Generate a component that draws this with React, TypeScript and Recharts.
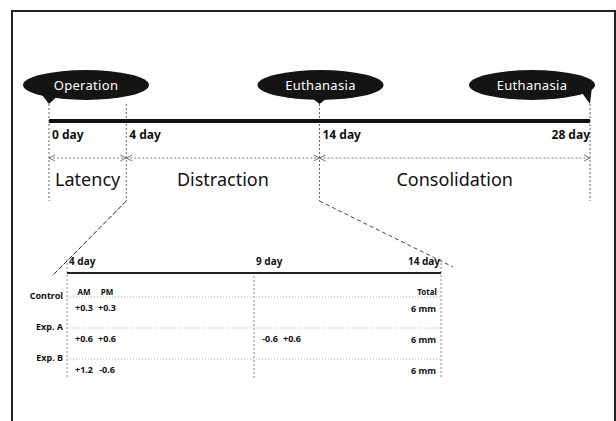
import { ComposedChart, XAxis, YAxis, Scatter, ReferenceLine } from "recharts";

const W = 616;
const H = 421;
const FONT = "'Noto Sans', 'DejaVu Sans', sans-serif";

// main timeline (days)
const dayMarks = [0, 4, 14, 28];
const dayLabels = ["0 day", "4 day", "14 day", "28 day"];
const phaseNames = ["Latency", "Distraction", "Consolidation"];
const phaseFrom = [0, 4, 14];
const phaseTo = [4, 14, 28];
const eventDays = [0, 14, 28];
const eventNames = ["Operation", "Euthanasia", "Euthanasia"];

// detail of the distraction phase (days 4 - 14)
const subDays = [4, 9, 14];
const subLabels = ["4 day", "9 day", "14 day"];
const groups = ["Control", "Exp. A", "Exp. B"];
const day4AM = [0.3, 0.6, 1.2];
const day4PM = [0.3, 0.6, -0.6];
const day9AM = [null, -0.6, null];
const day9PM = [null, 0.6, null];
const totalMm = [6, 6, 6];

// layout (pixels)
const TOP = [49, 590];
const SUB = [67, 441];
const Y = {
  tip: 104,
  main: 121,
  dayText: 134,
  arrow: 158,
  phase: 179,
  guideEnd: 201,
  subText: 261,
  subLine: 273,
  subEnd: 378,
  header: 291,
  row0: 297,
  rowGap: 31,
};
const AM_DX = 17;
const PM_DX = 40;

const lastDay = dayMarks[dayMarks.length - 1];
const subFirst = subDays[0];
const subLast = subDays[subDays.length - 1];
const rowY = (i: number) => Y.row0 + i * Y.rowGap;

// express a detail-axis day in main-axis units (for the zoom connectors)
const subToTop = (d: number) => {
  const px = SUB[0] + ((d - subFirst) / (subLast - subFirst)) * (SUB[1] - SUB[0]);
  return ((px - TOP[0]) / (TOP[1] - TOP[0])) * lastDay;
};

const fmt = (v: number) => (v > 0 ? `+${v}` : `${v}`);

const dayTextData = dayMarks.map((d, i) => ({
  x: d,
  y: Y.dayText,
  text: dayLabels[i],
  anchor: i === dayMarks.length - 1 ? "end" : "start",
  dx: i === dayMarks.length - 1 ? 0 : 3,
}));
const phaseData = phaseNames.map((n, i) => ({
  x: (phaseFrom[i] + phaseTo[i]) / 2,
  y: Y.phase,
  text: n,
}));
const bubbleData = eventDays.map((d, i) => ({
  x: d,
  y: Y.tip,
  text: eventNames[i],
  shift: i === 0 ? 37 : i === eventDays.length - 1 ? -58 : 1,
}));
const subTextData = subDays.map((d, i) => ({
  x: d,
  y: Y.subText,
  text: subLabels[i],
  anchor: i === subDays.length - 1 ? "end" : "start",
  dx: i === subDays.length - 1 ? -1 : 2,
}));
const groupData = groups.map((g, i) => ({ x: subFirst, y: rowY(i) - 2, text: g, anchor: "end", dx: -4 }));
const headerData = [
  { x: subFirst, y: Y.header, text: "AM", anchor: "middle", dx: AM_DX },
  { x: subFirst, y: Y.header, text: "PM", anchor: "middle", dx: PM_DX },
  { x: subLast, y: Y.header, text: "Total", anchor: "end", dx: -4 },
];
const valueData: any[] = [];
groups.forEach((_, i) => {
  const cols: [number, number | null, number][] = [
    [subDays[0], day4AM[i], AM_DX],
    [subDays[0], day4PM[i], PM_DX],
    [subDays[1], day9AM[i], AM_DX - 1],
    [subDays[1], day9PM[i], PM_DX - 2],
  ];
  cols.forEach(([d, v, dx]) => {
    if (v !== null) valueData.push({ x: d, y: rowY(i) + 10, text: fmt(v), anchor: "middle", dx });
  });
  valueData.push({ x: subLast, y: rowY(i) + 11, text: `${totalMm[i]} mm`, anchor: "end", dx: -5 });
});

const textShape = (size: number, weight: string | number, color = "#111") => (p: any) => (
  <text
    x={p.cx + (p.payload.dx || 0)}
    y={p.cy}
    textAnchor={p.payload.anchor || "middle"}
    dominantBaseline="central"
    fontFamily={FONT}
    fontSize={size}
    fontWeight={weight}
    fill={color}
  >
    {p.payload.text}
  </text>
);

const bubbleShape = (p: any) => {
  const tipX = p.cx;
  const tipY = p.cy;
  const rx = 63;
  const ry = 15;
  const cx = tipX + p.payload.shift;
  const cy = tipY - 19;
  const onEdge = (x: number) => {
    const xx = Math.max(cx - rx + 3, Math.min(cx + rx - 3, x));
    const t = (xx - cx) / rx;
    return [xx, cy + ry * Math.sqrt(Math.max(0, 1 - t * t)) - 3];
  };
  const a = onEdge(tipX - 9);
  const b = onEdge(tipX + 9);
  return (
    <g>
      <path d={`M${a[0]},${a[1]} L${tipX},${tipY} L${b[0]},${b[1]} Z`} fill="#141414" />
      <ellipse cx={cx} cy={cy} rx={rx} ry={ry} fill="#141414" />
      <text
        x={cx}
        y={cy}
        textAnchor="middle"
        dominantBaseline="central"
        fontFamily={FONT}
        fontSize={13}
        fill="#fff"
        letterSpacing={0.3}
      >
        {p.payload.text}
      </text>
    </g>
  );
};

const arrowShape = (p: any) => {
  const { x1, y1, x2, y2 } = p;
  const h = 6;
  const w = 3;
  return (
    <g stroke="#777" strokeWidth={1} fill="none">
      <line x1={x1} y1={y1} x2={x2} y2={y2} strokeDasharray="2 2" />
      <path d={`M${x1 + h},${y1 - w} L${x1},${y1} L${x1 + h},${y1 + w}`} />
      <path d={`M${x2 - h},${y2 - w} L${x2},${y2} L${x2 - h},${y2 + w}`} />
    </g>
  );
};

// connector from the main axis down to the detail axis, slightly extended
const connector = (topDay: number, subDay: number, ext: number) => {
  const x1 = topDay;
  const x2 = subToTop(subDay);
  const y1 = Y.guideEnd;
  const y2 = Y.subText;
  return [
    { x: x1, y: y1 },
    { x: x2 + (x2 - x1) * ext, y: y2 + (y2 - y1) * ext },
  ];
};

const App = () => {
  return (
    <div style={{ position: "absolute", left: 0, top: 0, width: W, height: H, overflow: "hidden", background: "#fff" }}>
      <div
        style={{
          position: "absolute",
          left: 11,
          top: 10,
          width: W - 11,
          height: H,
          boxSizing: "border-box",
          borderTop: "2px solid #222",
          borderLeft: "2px solid #222",
          borderRight: "2px solid #222",
        }}
      />
      <div style={{ position: "absolute", left: 0, top: 0 }}>
        <ComposedChart width={W} height={H} margin={{ top: 0, right: 0, bottom: 0, left: 0 }}>
          <XAxis
            xAxisId="top"
            type="number"
            dataKey="x"
            domain={[0, lastDay]}
            padding={{ left: TOP[0], right: W - TOP[1] }}
            hide
          />
          <XAxis
            xAxisId="sub"
            type="number"
            dataKey="x"
            domain={[subFirst, subLast]}
            padding={{ left: SUB[0], right: W - SUB[1] }}
            hide
          />
          <YAxis yAxisId="y" type="number" dataKey="y" domain={[0, H]} reversed hide />

          {/* main timeline */}
          {dayMarks.map((d) => (
            <ReferenceLine
              key={`g${d}`}
              xAxisId="top"
              yAxisId="y"
              ifOverflow="visible"
              segment={[
                { x: d, y: Y.tip },
                { x: d, y: Y.guideEnd },
              ]}
              stroke="#666"
              strokeDasharray="2 2"
            />
          ))}
          <ReferenceLine
            xAxisId="top"
            yAxisId="y"
            ifOverflow="visible"
            segment={[
              { x: 0, y: Y.main },
              { x: lastDay, y: Y.main },
            ]}
            stroke="#111"
            strokeWidth={4}
          />
          {phaseNames.map((n, i) => (
            <ReferenceLine
              key={`a${n}`}
              xAxisId="top"
              yAxisId="y"
              ifOverflow="visible"
              segment={[
                { x: phaseFrom[i], y: Y.arrow },
                { x: phaseTo[i], y: Y.arrow },
              ]}
              shape={arrowShape}
            />
          ))}
          <ReferenceLine
            xAxisId="top"
            yAxisId="y"
            ifOverflow="visible"
            segment={connector(subFirst, subFirst, 0.25)}
            stroke="#222"
            strokeDasharray="5 2"
          />
          <ReferenceLine
            xAxisId="top"
            yAxisId="y"
            ifOverflow="visible"
            segment={connector(subLast, subLast, 0.1)}
            stroke="#444"
            strokeDasharray="4 3"
          />

          {/* detail timeline */}
          {subDays.map((d, i) => (
            <ReferenceLine
              key={`s${d}`}
              xAxisId="sub"
              yAxisId="y"
              ifOverflow="visible"
              segment={[
                { x: d, y: i === 1 ? Y.subLine + 3 : Y.subText - 2 },
                { x: d, y: Y.subEnd },
              ]}
              stroke="#888"
              strokeDasharray="2 2"
            />
          ))}
          {groups.map((g, i) => (
            <ReferenceLine
              key={`r${g}`}
              xAxisId="sub"
              yAxisId="y"
              ifOverflow="visible"
              segment={[
                { x: subFirst, y: rowY(i) },
                { x: subLast, y: rowY(i) },
              ]}
              stroke="#aaa"
              strokeDasharray="1 2"
            />
          ))}
          <ReferenceLine
            xAxisId="sub"
            yAxisId="y"
            ifOverflow="visible"
            segment={[
              { x: subFirst, y: Y.subLine },
              { x: subLast, y: Y.subLine },
            ]}
            stroke="#222"
            strokeWidth={2}
          />

          <Scatter xAxisId="top" yAxisId="y" data={bubbleData} shape={bubbleShape} isAnimationActive={false} />
          <Scatter xAxisId="top" yAxisId="y" data={dayTextData} shape={textShape(12, 700)} isAnimationActive={false} />
          <Scatter xAxisId="top" yAxisId="y" data={phaseData} shape={textShape(18, 400)} isAnimationActive={false} />
          <Scatter xAxisId="sub" yAxisId="y" data={subTextData} shape={textShape(10, 700)} isAnimationActive={false} />
          <Scatter xAxisId="sub" yAxisId="y" data={groupData} shape={textShape(9, 700)} isAnimationActive={false} />
          <Scatter xAxisId="sub" yAxisId="y" data={headerData} shape={textShape(8, 700)} isAnimationActive={false} />
          <Scatter xAxisId="sub" yAxisId="y" data={valueData} shape={textShape(9, 700)} isAnimationActive={false} />
        </ComposedChart>
      </div>
    </div>
  );
};

export default App;
